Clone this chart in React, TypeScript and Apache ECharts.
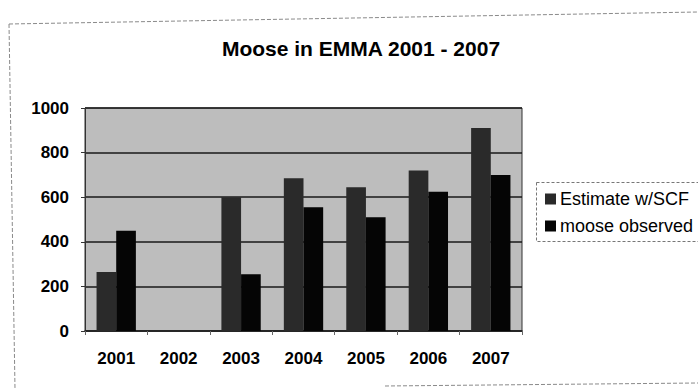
import React, { useEffect, useRef } from "react";
import * as echarts from "echarts";

const years = ["2001", "2002", "2003", "2004", "2005", "2006", "2007"];
const estimate = [265, null, 600, 685, 645, 720, 910];
const observed = [450, null, 255, 555, 510, 625, 700];
const seriesNames = ["Estimate w/SCF", "moose observed"];
const yTicks = [0, 200, 400, 600, 800, 1000];

export default function App() {
  const ref = useRef<HTMLDivElement>(null);
  useEffect(() => {
    if (!ref.current) return;
    const chart = echarts.init(ref.current, null, { renderer: "svg" });
    const font = "'Liberation Sans', Arial, sans-serif";
    const borderStyle = { stroke: "#8a8a8a", lineWidth: 1, lineDash: [4, 2] };
    chart.setOption({
      animation: false,
      backgroundColor: "#ffffff",
      title: {
        text: "Moose in EMMA 2001 - 2007",
        left: 356,
        textAlign: "center",
        top: 33,
        textStyle: { fontFamily: font, fontSize: 21, fontWeight: "bold", color: "#000" },
      },
      graphic: [
        { type: "line", shape: { x1: 9, y1: 24, x2: 698, y2: 12 }, style: borderStyle, silent: true },
        { type: "line", shape: { x1: 9, y1: 24, x2: 15, y2: 389 }, style: borderStyle, silent: true },
        { type: "line", shape: { x1: 385, y1: 386, x2: 698, y2: 383 }, style: borderStyle, silent: true },
        {
          type: "rect",
          shape: { x: 536.5, y: 182.5, width: 170, height: 59 },
          style: { fill: "none", stroke: "#777", lineWidth: 1, lineDash: [3, 2] },
          silent: true,
        },
      ],
      legend: {
        orient: "vertical",
        left: 540,
        top: 185,
        itemWidth: 11,
        itemHeight: 11,
        itemGap: 9,
        icon: "rect",
        data: seriesNames,
        textStyle: { fontFamily: font, fontSize: 18, color: "#000", padding: [0, 0, 0, -1] },
      },
      grid: {
        left: 85,
        right: 176,
        top: 108,
        bottom: 58,
        show: true,
        backgroundColor: "#bdbdbd",
        borderColor: "#333",
        borderWidth: 1,
      },
      xAxis: {
        type: "category",
        data: years,
        axisLine: { lineStyle: { color: "#222", width: 1.5 } },
        axisTick: { show: true, length: 4, lineStyle: { color: "#666" } },
        axisLabel: {
          fontFamily: font,
          fontSize: 17,
          fontWeight: "bold",
          color: "#000",
          margin: 19,
        },
      },
      yAxis: {
        type: "value",
        min: yTicks[0],
        max: yTicks[yTicks.length - 1],
        interval: 200,
        axisLine: { show: true, lineStyle: { color: "#333" } },
        axisTick: { show: true, length: 4, lineStyle: { color: "#333" } },
        splitLine: { show: true, lineStyle: { color: "#1a1a1a", width: 1.5 } },
        axisLabel: {
          fontFamily: font,
          fontSize: 17,
          fontWeight: "bold",
          color: "#000",
          margin: 16,
          formatter: (v: number) => String(v),
        },
      },
      series: [
        {
          name: seriesNames[0],
          type: "bar",
          data: estimate,
          barGap: "0%",
          barCategoryGap: "37%",
          itemStyle: { color: "#2a2a2a" },
        },
        {
          name: seriesNames[1],
          type: "bar",
          data: observed,
          itemStyle: { color: "#050505" },
        },
      ],
    });
    return () => chart.dispose();
  }, []);
  return (
    <div
      ref={ref}
      style={{ position: "absolute", left: 0, top: 0, width: 698, height: 389 }}
    />
  );
}
